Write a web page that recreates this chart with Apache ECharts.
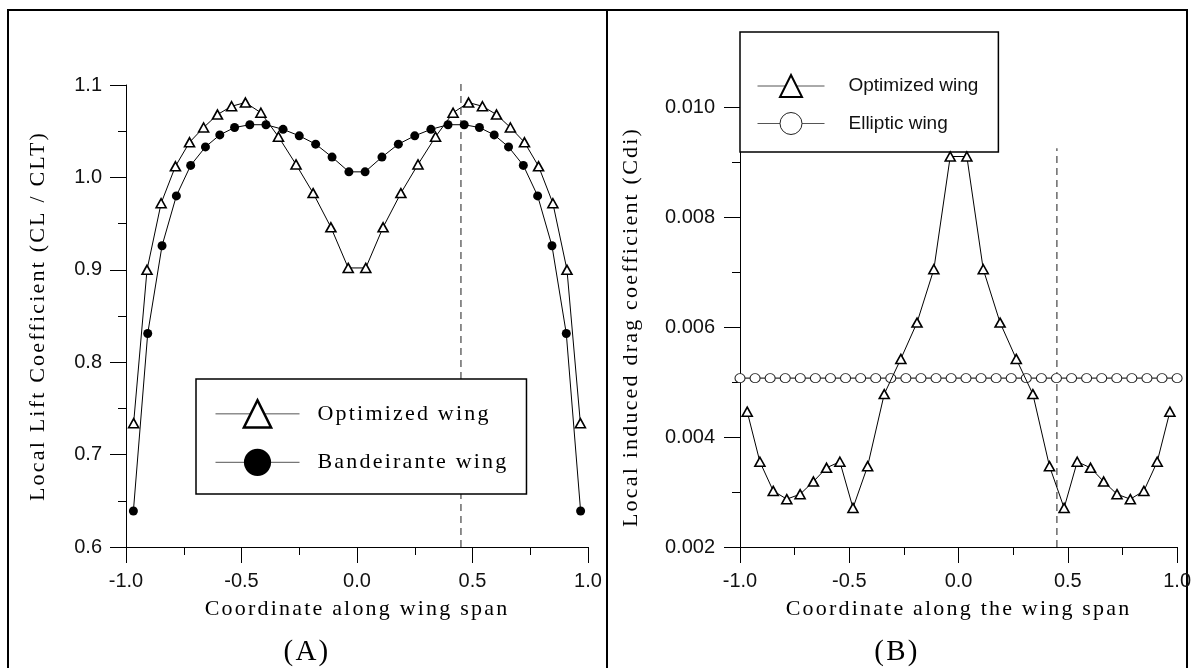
<!DOCTYPE html>
<html><head><meta charset="utf-8">
<script src="https://cdn.jsdelivr.net/npm/echarts@6/dist/echarts.min.js"></script>
<style>html,body{margin:0;padding:0;background:#fff}#c{width:1194px;height:668px}</style>
</head><body><div id="c"></div>
<script>
// ---------- data ----------
const xOpt = [-0.967,-0.909,-0.848,-0.786,-0.725,-0.664,-0.604,-0.543,-0.483,-0.416,-0.340,-0.264,-0.190,-0.113,-0.038,
               0.038,0.113,0.190,0.264,0.340,0.416,0.483,0.543,0.604,0.664,0.725,0.786,0.848,0.909,0.967];
const liftOpt = [0.734,0.900,0.972,1.012,1.038,1.054,1.068,1.077,1.081,1.070,1.044,1.014,0.983,0.946,0.902,
                 0.902,0.946,0.983,1.014,1.044,1.070,1.081,1.077,1.068,1.054,1.038,1.012,0.972,0.900,0.734];
const xBand = [-0.968,-0.906,-0.844,-0.782,-0.720,-0.656,-0.594,-0.530,-0.464,-0.394,-0.320,-0.250,-0.179,-0.108,-0.035,
                0.035,0.108,0.179,0.250,0.320,0.394,0.464,0.530,0.594,0.656,0.720,0.782,0.844,0.906,0.968];
const liftBand = [0.639,0.831,0.926,0.980,1.013,1.033,1.046,1.054,1.057,1.057,1.052,1.045,1.036,1.022,1.006,
                  1.006,1.022,1.036,1.045,1.052,1.057,1.057,1.054,1.046,1.033,1.013,0.980,0.926,0.831,0.639];
const dragOpt = [0.00446,0.00355,0.00302,0.00287,0.00296,0.00319,0.00344,0.00355,0.00271,0.00347,0.00478,0.00542,0.00608,0.00705,0.00910,
                 0.00910,0.00705,0.00608,0.00542,0.00478,0.00347,0.00271,0.00355,0.00344,0.00319,0.00296,0.00287,0.00302,0.00355,0.00446];
const xEll = [-1.000,-0.931,-0.862,-0.793,-0.724,-0.655,-0.586,-0.517,-0.448,-0.379,-0.310,-0.241,-0.172,-0.103,-0.034,
               0.034,0.103,0.172,0.241,0.310,0.379,0.448,0.517,0.586,0.655,0.724,0.793,0.862,0.931,1.000];
const dragEll = [0.00507,0.00507,0.00507,0.00507,0.00507,0.00507,0.00507,0.00507,0.00507,0.00507,0.00507,0.00507,0.00507,0.00507,0.00507,
                 0.00507,0.00507,0.00507,0.00507,0.00507,0.00507,0.00507,0.00507,0.00507,0.00507,0.00507,0.00507,0.00507,0.00507,0.00507];
const stationLiftX = [0.45, 0.45];
const stationLiftY = [0.6, 1.1065];
const stationDragX = [0.45, 0.45];
const stationDragY = [0.002, 0.00925];
const nameLiftOpt = 'Optimized wing', nameBand = 'Bandeirante wing', nameEll = 'Elliptic wing';
const panelLabels = ['(A)', '(B)'];

// serif captions in the reference are letter-spaced
(function(){
  const P = CanvasRenderingContext2D.prototype;
  if (!('letterSpacing' in P)) return;
  const f = P.fillText, m = P.measureText;
  const set = c => { c.letterSpacing = /Liberation Serif/.test(c.font) ? '2.2px' : '0px'; };
  P.fillText = function(){ set(this); return f.apply(this, arguments); };
  P.measureText = function(){ set(this); return m.apply(this, arguments); };
})();

const zip = (xs, ys) => xs.map((x, i) => [x, ys[i]]);

const serif = {fontFamily:'Liberation Serif', fontSize:22, color:'#000'};
const tickFont = {fontFamily:'Liberation Sans', fontSize:20, color:'#111'};
const axLine = {show:true, onZero:false, lineStyle:{color:'#000', width:1}};
const axTick = {show:true, length:16, lineStyle:{color:'#000', width:1}};
const minTick = {show:true, splitNumber:2, length:8, lineStyle:{color:'#000', width:1}};

const chart = echarts.init(document.getElementById('c'), null, {renderer:'canvas'});
chart.setOption({
  animation:false,
  backgroundColor:'#fff',
  grid:[
    {left:126, top:85, width:462, height:462, containLabel:false},
    {left:740, top:107, width:439, height:440, containLabel:false}
  ],
  xAxis:[
    {gridIndex:0, type:'value', min:-1, max:1, interval:0.5,
     name:'Coordinate along wing span', nameLocation:'middle', nameGap:50, nameTextStyle:serif,
     axisLine:axLine, axisTick:axTick, minorTick:minTick, splitLine:{show:false},
     axisLabel:Object.assign({margin:24, formatter:v=>v.toFixed(1)}, tickFont)},
    {gridIndex:1, type:'value', min:-1, max:1, interval:0.5,
     name:'Coordinate along the wing span', nameLocation:'middle', nameGap:50, nameTextStyle:serif,
     axisLine:axLine, axisTick:axTick, minorTick:minTick, splitLine:{show:false},
     axisLabel:Object.assign({margin:24, formatter:v=>v.toFixed(1)}, tickFont)}
  ],
  yAxis:[
    {gridIndex:0, type:'value', min:0.6, max:1.1, interval:0.1,
     name:'Local Lift Coefficient (CL / CLT)', nameLocation:'middle', nameGap:76, nameTextStyle:serif,
     axisLine:axLine, axisTick:axTick, minorTick:minTick, splitLine:{show:false},
     axisLabel:Object.assign({margin:24, formatter:v=>v.toFixed(1)}, tickFont)},
    {gridIndex:1, type:'value', min:0.002, max:0.010, interval:0.002,
     name:'Local induced drag coefficient (Cdi)', nameLocation:'middle', nameGap:97, nameTextStyle:serif,
     axisLine:axLine, axisTick:axTick, minorTick:minTick, splitLine:{show:false},
     axisLabel:Object.assign({margin:25, formatter:v=>v.toFixed(3)}, tickFont)}
  ],
  legend:[
    {orient:'vertical', left:196, top:379, selectedMode:false,
     data:[{name:nameLiftOpt, itemStyle:{borderWidth:2.5}}, {name:nameBand}],
     itemWidth:84, itemHeight:34, itemGap:20, padding:[20,18,18,19],
     backgroundColor:'#fff', borderColor:'#000', borderWidth:1.5,
     lineStyle:{color:'#555', width:1},
     textStyle:Object.assign({padding:[0,0,0,13]}, serif)},
    {orient:'vertical', left:740, top:32, selectedMode:false,
     data:[{name:nameLiftOpt, itemStyle:{borderWidth:2}}, {name:nameEll, itemStyle:{borderWidth:1}}],
     itemWidth:67, itemHeight:27.5, itemGap:14, padding:[42,20,17,17],
     backgroundColor:'#fff', borderColor:'#000', borderWidth:1.5,
     lineStyle:{color:'#555', width:1},
     textStyle:{fontFamily:'Liberation Sans', fontSize:19, color:'#111', padding:[0,0,0,19]}}
  ],
  series:[
    {name:nameBand, type:'line', xAxisIndex:0, yAxisIndex:0, data:zip(xBand, liftBand),
     symbol:'circle', symbolSize:9, itemStyle:{color:'#000'}, lineStyle:{color:'#000', width:1}, z:3},
    {name:nameLiftOpt, type:'line', xAxisIndex:0, yAxisIndex:0, data:zip(xOpt, liftOpt),
     symbol:'triangle', symbolSize:[10,9], itemStyle:{color:'#fff', borderColor:'#000', borderWidth:1.6},
     lineStyle:{color:'#000', width:1}, z:4},
    {name:'station A', type:'line', xAxisIndex:0, yAxisIndex:0, data:zip(stationLiftX, stationLiftY),
     symbol:'none', clip:false, silent:true, lineStyle:{color:'#444', width:1.2, type:[7,5]}, z:2},
    {name:nameLiftOpt, type:'line', xAxisIndex:1, yAxisIndex:1, data:zip(xOpt, dragOpt),
     symbol:'triangle', symbolSize:[10,9], itemStyle:{color:'#fff', borderColor:'#000', borderWidth:1.6},
     lineStyle:{color:'#000', width:1}, z:4},
    {name:nameEll, type:'line', xAxisIndex:1, yAxisIndex:1, data:zip(xEll, dragEll),
     symbol:'circle', symbolSize:[10,9], itemStyle:{color:'#fff', borderColor:'#222', borderWidth:1},
     lineStyle:{color:'#333', width:1.2}, z:3},
    {name:'station B', type:'line', xAxisIndex:1, yAxisIndex:1, data:zip(stationDragX, stationDragY),
     symbol:'none', clip:false, silent:true, lineStyle:{color:'#444', width:1.2, type:[7,5]}, z:2}
  ],
  graphic:[
    {type:'rect', shape:{x:8, y:10, width:1179, height:700}, style:{fill:'none', stroke:'#000', lineWidth:2}, silent:true},
    {type:'line', shape:{x1:607, y1:10, x2:607, y2:668}, style:{stroke:'#000', lineWidth:2}, silent:true},
    {type:'text', x:307, y:652, style:{text:panelLabels[0], fontFamily:'Liberation Serif', fontSize:29, fill:'#000', align:'center', verticalAlign:'middle'}},
    {type:'text', x:897, y:652, style:{text:panelLabels[1], fontFamily:'Liberation Serif', fontSize:29, fill:'#000', align:'center', verticalAlign:'middle'}}
  ]
});
</script></body></html>
